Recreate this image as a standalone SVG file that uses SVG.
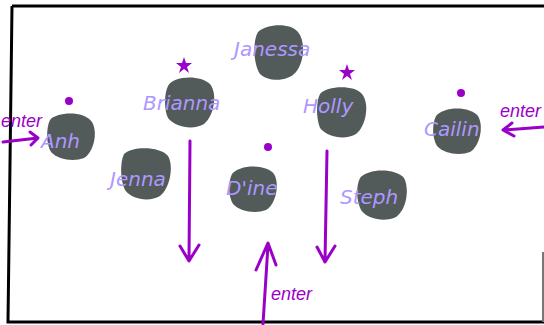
<svg xmlns="http://www.w3.org/2000/svg" width="544" height="325" viewBox="0 0 544 325">
<style>
.blob{fill:#525a5a}
.name{fill:#ad98ff;font-family:"DejaVu Sans",sans-serif;font-style:italic;font-size:20px}
.mark{fill:#9a00c8}
.conn{stroke:#9a00c8;stroke-width:3;fill:none;stroke-linecap:round;stroke-linejoin:round}
.lbl{fill:#9a00c8;font-family:"Liberation Sans",sans-serif;font-size:18px;font-style:italic}
</style>
<rect width="544" height="325" fill="#fff"/>
<path d="M12,6 L546,6 M12,6 L8,322 L546,322" stroke="#000" stroke-width="3" fill="none"/>
<path d="M543,252 L543,322" stroke="#777" stroke-width="2" fill="none"/>
<g id="janessa"><path class="blob" d="M258,32 C266,24 290,22 298,32 C306,42 304,62 296,72 C288,82 268,82 260,74 C254,66 252,42 258,32Z"/><text class="name" x="234" y="56">Janessa</text></g>
<g id="brianna"><path class="blob" d="M168,86 C172,76 200,74 210,84 C218,94 214,116 204,124 C194,130 176,128 168,118 C164,110 164,94 168,86Z"/><path class="mark" d="M184,57 L186,63 L192,63 L187,67 L189,73 L184,69 L179,73 L181,67 L176,63 L182,63Z"/><text class="name" x="143" y="110">Brianna</text></g>
<g id="holly"><path class="blob" d="M320,94 C326,86 354,84 362,94 C370,104 366,126 356,134 C346,140 328,138 320,128 C316,118 316,102 320,94Z"/><path class="mark" d="M347,64 L349,70 L355,70 L350,74 L352,80 L347,76 L342,80 L344,74 L339,70 L345,70Z"/><text class="name" x="303" y="113">Holly</text></g>
<g id="anh"><path class="blob" d="M50,120 C56,112 84,110 92,122 C98,132 94,152 84,158 C74,162 58,160 51,152 C46,144 46,128 50,120Z"/><circle class="mark" cx="69" cy="101" r="4"/><text class="name" x="41" y="148">Anh</text></g>
<g id="jenna"><path class="blob" d="M124,154 C132,146 160,146 168,156 C174,166 170,188 160,196 C150,202 132,200 125,190 C120,180 120,162 124,154Z"/><text class="name" x="110" y="186">Jenna</text></g>
<g id="dine"><path class="blob" d="M232,174 C240,164 266,164 274,174 C280,184 276,204 266,210 C256,214 240,212 233,204 C228,196 228,182 232,174Z"/><circle class="mark" cx="268" cy="147" r="4"/><text class="name" x="226" y="195">D'ine</text></g>
<g id="cailin"><path class="blob" d="M436,116 C444,106 470,106 478,116 C484,126 480,146 470,152 C460,156 444,154 437,146 C432,138 432,124 436,116Z"/><circle class="mark" cx="461" cy="93" r="4"/><text class="name" x="424" y="136">Cailin</text></g>
<g id="steph"><path class="blob" d="M360,178 C368,168 396,168 404,178 C410,190 406,210 396,217 C386,222 368,220 361,210 C356,200 356,186 360,178Z"/><text class="name" x="340" y="204">Steph</text></g>
<g id="connectors">
<path class="conn" d="M3,142 L38,138 M30,132 L38,138 L31,145"/>
<path class="conn" d="M544,127 L503,130 M512,123 L503,130 L514,136"/>
<path class="conn" d="M190,141 L189,261 M180,246 L189,261 L199,245"/>
<path class="conn" d="M327,151 L325,262 M317,247 L325,262 L335,246"/>
<path class="conn" d="M263,324 L268,245 M256,270 L268,243 L276,265"/>
</g>
<text class="lbl" x="1" y="127">enter</text>
<text class="lbl" x="500" y="117" font-size="14">enter</text>
<text class="lbl" x="271" y="300" font-size="20">enter</text>
</svg>
